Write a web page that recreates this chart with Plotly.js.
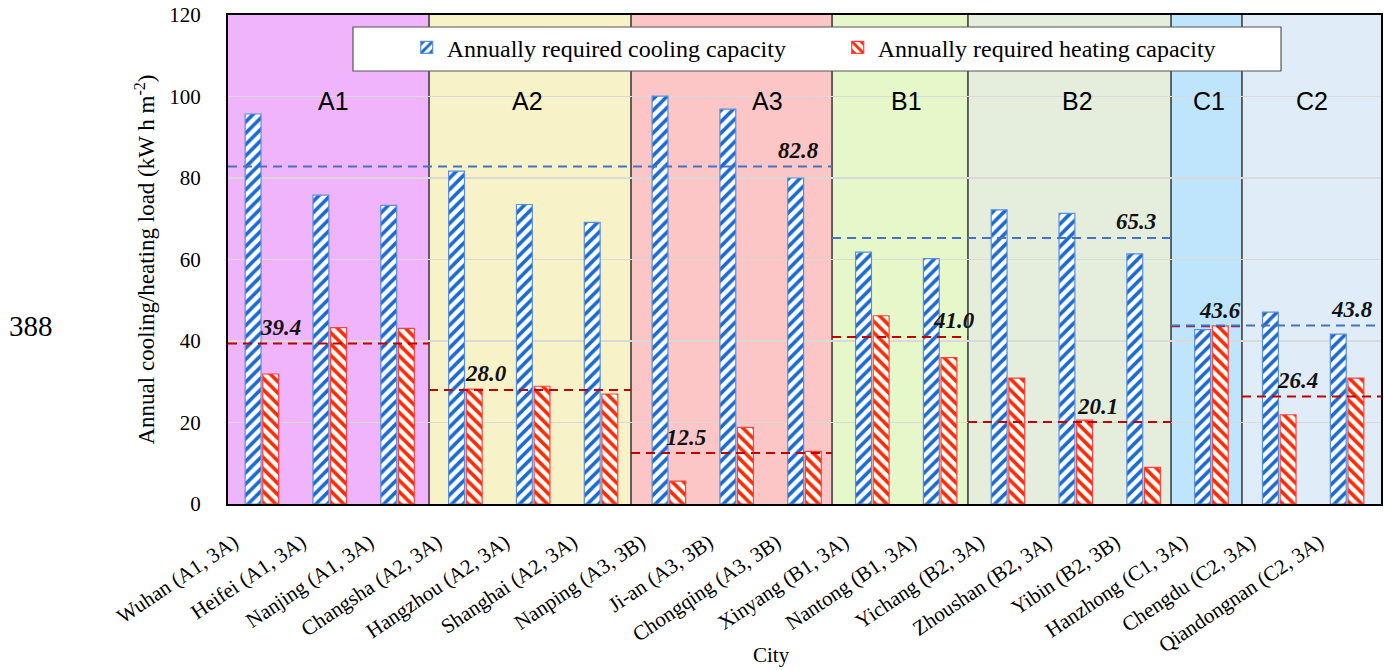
<!DOCTYPE html>
<html>
<head>
<meta charset="utf-8">
<script src="https://cdn.plot.ly/plotly-3.0.1.min.js"></script>
<style>html,body{margin:0;padding:0;background:#fff}#chart{width:1384px;height:670px}</style>
</head>
<body>
<div id="chart"></div>
<script>
// ---- data ----
const cities = ['Wuhan (A1, 3A)', 'Heifei (A1, 3A)', 'Nanjing (A1, 3A)', 'Changsha (A2, 3A)', 'Hangzhou (A2, 3A)', 'Shanghai (A2, 3A)', 'Nanping (A3, 3B)', 'Ji-an (A3, 3B)', 'Chongqing (A3, 3B)', 'Xinyang (B1, 3A)', 'Nantong (B1, 3A)', 'Yichang (B2, 3A)', 'Zhoushan (B2, 3A)', 'Yibin (B2, 3B)', 'Hanzhong (C1, 3A)', 'Chengdu (C2, 3A)', 'Qiandongnan (C2, 3A)'];
const cooling = [95.7, 75.8, 73.3, 81.7, 73.5, 69.1, 100.1, 96.9, 80.0, 61.8, 60.2, 72.2, 71.3, 61.4, 42.8, 47.1, 41.7];
const heating = [31.9, 43.3, 43.1, 28.2, 28.9, 27.0, 5.6, 18.8, 12.9, 46.2, 35.9, 30.9, 20.6, 9.0, 43.7, 21.9, 30.9];
const groupNames = ['A1', 'A2', 'A3', 'B1', 'B2', 'C1', 'C2'];
const groupSizes = [3, 3, 3, 2, 3, 1, 2];
const heatAvg = [39.4, 28.0, 12.5, 41.0, 20.1, 43.6, 26.4];
const coolClusterSizes = [9, 5, 3];
const coolAvg = [82.8, 65.3, 43.8];
const seriesNames = ['Annually required cooling capacity', 'Annually required heating capacity'];

// ---- styles / layout config ----
const groupColors = ['#EFB4FC', '#F8F2C8', '#FDC6C6', '#E6F8CA', '#E5EEDC', '#BEE5FB', '#E0ECF8'];
const edgeShift = [0, -0.036, -0.058, -0.094, -0.09, -0.096, -0.05, 0]; // small visual shifts of region edges
const groupLabelX = [1.05, 3.92, 7.45, 9.5, 12.02, 13.96, 15.48];
const heatLabelX = [0.27, 3.30, 6.26, 10.2, 12.32, 14.12, 15.27];
const coolLabelX = [7.91, 12.89, 16.07];
const serif = 'Liberation Serif';

const idx = cities.map((_, i) => i);

const traces = [
  {
    type: 'bar', x: idx, y: cooling, name: seriesNames[0],
    marker: {color: '#ffffff', line: {color: '#5B8FDB', width: 1.2},
      pattern: {shape: '/', fgcolor: '#1A6AD2', bgcolor: '#ffffff', size: 8, solidity: 0.45}}
  },
  {
    type: 'bar', x: idx, y: heating, name: seriesNames[1],
    marker: {color: '#ffffff', line: {color: '#FF4040', width: 1.2},
      pattern: {shape: '\\', fgcolor: '#FF2A00', bgcolor: '#ffffff', size: 8, solidity: 0.45}}
  }
];

// group edges (in x data units)
const edges = [];
let s = 0;
groupSizes.forEach((n, g) => { edges.push(s - 0.5 + edgeShift[g]); s += n; });
edges.push(s - 0.5);

// heating average dashed lines
const hx = [], hy = [];
groupSizes.forEach((n, g) => { hx.push(edges[g], edges[g + 1], null); hy.push(heatAvg[g], heatAvg[g], null); });
traces.push({type: 'scatter', mode: 'lines', x: hx, y: hy, showlegend: false, hoverinfo: 'skip',
  line: {color: '#C00000', width: 2, dash: '9px,6px'}});
// cooling average dashed lines
const cx = [], cy = [];
let gi = 0;
coolClusterSizes.forEach((n, c) => {
  let cnt = 0, g0 = gi;
  while (cnt < n) { cnt += groupSizes[gi]; gi++; }
  cx.push(edges[g0], edges[gi], null); cy.push(coolAvg[c], coolAvg[c], null);
});
traces.push({type: 'scatter', mode: 'lines', x: cx, y: cy, showlegend: false, hoverinfo: 'skip',
  line: {color: '#4472C4', width: 2, dash: '9px,6px'}});

const shapes = [];
groupSizes.forEach((n, g) => {
  shapes.push({type: 'rect', xref: 'x', yref: 'paper', x0: edges[g], x1: edges[g + 1], y0: 0, y1: 1,
    fillcolor: groupColors[g], line: {width: 0}, layer: 'below'});
});
groupSizes.forEach((n, g) => {
  if (g > 0) shapes.push({type: 'line', xref: 'x', yref: 'paper', x0: edges[g], x1: edges[g], y0: 0, y1: 1,
    line: {color: '#333333', width: 1.5}, layer: 'below'});
});
// legend box
shapes.push({type: 'rect', xref: 'paper', yref: 'paper', x0: 0.1084, x1: 0.9133, y0: 0.8855, y1: 0.9755,
  fillcolor: '#ffffff', line: {color: '#555555', width: 1.2}, layer: 'above'});

const annotations = [];
groupNames.forEach((name, g) => {
  annotations.push({xref: 'x', yref: 'y', x: groupLabelX[g], y: 98.9, text: name, showarrow: false,
    font: {family: 'Liberation Sans', size: 25, color: '#000'}});
});
heatAvg.forEach((v, g) => {
  annotations.push({xref: 'x', yref: 'y', x: heatLabelX[g], y: v, yshift: 16, text: '<b><i>' + v.toFixed(1) + '</i></b>',
    showarrow: false, font: {family: serif, size: 23, color: '#111'}});
});
coolAvg.forEach((v, g) => {
  annotations.push({xref: 'x', yref: 'y', x: coolLabelX[g], y: v, yshift: 16, text: '<b><i>' + v.toFixed(1) + '</i></b>',
    showarrow: false, font: {family: serif, size: 23, color: '#111'}});
});
annotations.push({xref: 'paper', yref: 'paper', x: (771 - 228) / 1153, y: (504 - 655) / 489, xanchor: 'center', yanchor: 'middle', text: 'City',
  showarrow: false, font: {family: serif, size: 21, color: '#000'}});
annotations.push({xref: 'paper', yref: 'paper', x: (31 - 228) / 1153, y: (504 - 326) / 489, xanchor: 'center', yanchor: 'middle', text: '388',
  showarrow: false, font: {family: serif, size: 29, color: '#000'}});

const layout = {
  width: 1384, height: 670,
  margin: {l: 228, r: 3, t: 15, b: 166},
  paper_bgcolor: '#ffffff', plot_bgcolor: '#ffffff',
  barmode: 'group', bargap: 0.48, bargroupgap: 0.1,
  font: {family: serif, color: '#000'},
  xaxis: {range: [-0.5, 16.5], tickvals: idx, ticktext: cities, tickangle: -34,
    tickfont: {family: serif, size: 21, color: '#000'}, showgrid: false, zeroline: false,
    showline: true, mirror: true, linecolor: '#000', linewidth: 2, ticks: '',
    ticklabelshift: -28, ticklabelstandoff: 16},
  yaxis: {range: [0, 120], dtick: 20, tickfont: {family: serif, size: 21, color: '#000'},
    showgrid: true, gridcolor: '#d9d9d9', gridwidth: 1.2, zeroline: false,
    showline: true, mirror: true, linecolor: '#000', linewidth: 2, ticks: '', ticklabelstandoff: 21,
    title: {text: 'Annual cooling/heating load (kW h m<sup>-2</sup>)', font: {family: serif, size: 23, color: '#000'}, standoff: 8}},
  legend: {orientation: 'h', x: 0.155, y: 0.979, xanchor: 'left', yanchor: 'top',
    bgcolor: 'rgba(0,0,0,0)', borderwidth: 0, entrywidth: 386, font: {family: serif, size: 24, color: '#000'}},
  shapes: shapes,
  annotations: annotations,
  showlegend: true
};

Plotly.newPlot('chart', traces, layout, {displayModeBar: false, staticPlot: true});
</script>
</body>
</html>
